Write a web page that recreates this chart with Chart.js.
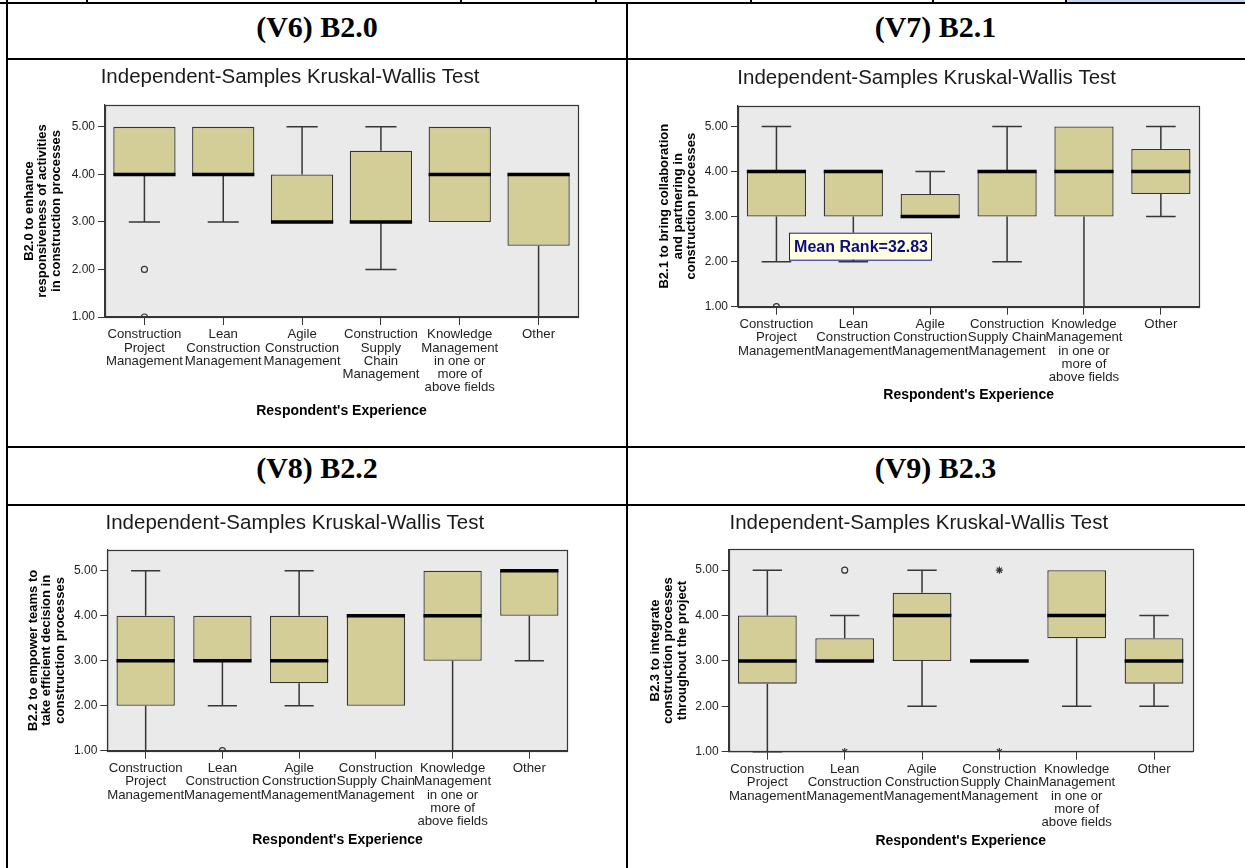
<!DOCTYPE html>
<html>
<head>
<meta charset="utf-8">
<title>Kruskal-Wallis box plots B2.0 – B2.3</title>
<script src="https://cdn.jsdelivr.net/npm/chart.js@4.4.1/dist/chart.umd.min.js"></script>
<style>
  html, body { margin: 0; padding: 0; background: #fff; }
  #page { position: relative; width: 1245px; height: 868px; overflow: hidden; background: #fff; }
  .rule { position: absolute; background: #000; z-index: 2; }
  .head {
    position: absolute; height: 30px; line-height: 30px; text-align: center; white-space: nowrap;
    font: bold 30px "Liberation Serif", "Times New Roman", serif; color: #000;
  }
  canvas { position: absolute; }
</style>
</head>
<body>
<div id="page">
  <!-- table frame -->
  <div class="rule" style="left:1066px;top:0;width:179px;height:2px;background:#c6d9f1"></div>
  <div class="rule" style="left:0;top:2px;width:1245px;height:2px"></div>
  <div class="rule" style="left:86px;top:0;width:2px;height:3px"></div>
  <div class="rule" style="left:460px;top:0;width:2px;height:3px"></div>
  <div class="rule" style="left:595px;top:0;width:2px;height:3px"></div>
  <div class="rule" style="left:750px;top:0;width:2px;height:3px"></div>
  <div class="rule" style="left:932px;top:0;width:2px;height:3px"></div>
  <div class="rule" style="left:1065px;top:0;width:2px;height:3px"></div>
  <div class="rule" style="left:6px;top:0;width:2px;height:868px"></div>
  <div class="rule" style="left:626px;top:3px;width:2px;height:865px"></div>
  <div class="rule" style="left:6px;top:58px;width:1239px;height:2px"></div>
  <div class="rule" style="left:6px;top:446px;width:1239px;height:2px"></div>
  <div class="rule" style="left:6px;top:504px;width:1239px;height:2px"></div>

  <div class="head" style="left:7px;width:620px;top:10px">(V6) B2.0</div>
  <div class="head" style="left:627px;width:617px;top:10px">(V7) B2.1</div>
  <div class="head" style="left:7px;width:620px;top:451px">(V8) B2.2</div>
  <div class="head" style="left:627px;width:617px;top:451px">(V9) B2.3</div>

  <canvas id="b20" width="620" height="386" style="left:2px;top:61px"></canvas>
  <canvas id="b21" width="589" height="386" style="left:654px;top:61px"></canvas>
  <canvas id="b22" width="604" height="362" style="left:22px;top:506px"></canvas>
  <canvas id="b23" width="598" height="362" style="left:645px;top:506px"></canvas>
</div>

<script>
// ---- shared text ----
const CHART_TITLE = 'Independent-Samples Kruskal-Wallis Test';
const X_TITLE = "Respondent's Experience";
const yTickValues = [1, 2, 3, 4, 5];
const yAxisMin = 1;
const yAxisMax = 5.46;

// experience groups (first panel wraps the supply-chain label over four lines)
const groupsB20 = [
  ['Construction', 'Project', 'Management'],
  ['Lean', 'Construction', 'Management'],
  ['Agile', 'Construction', 'Management'],
  ['Construction', 'Supply', 'Chain', 'Management'],
  ['Knowledge', 'Management', 'in one or', 'more of', 'above fields'],
  ['Other']
];
const groupsB2x = [
  ['Construction', 'Project', 'Management'],
  ['Lean', 'Construction', 'Management'],
  ['Agile', 'Construction', 'Management'],
  ['Construction', 'Supply Chain', 'Management'],
  ['Knowledge', 'Management', 'in one or', 'more of', 'above fields'],
  ['Other']
];

// ---- B2.0 to enhance responsiveness of activities ----
const b20Q1 = [4, 4, 3, 3, 3, 2.5];
const b20Q3 = [5, 5, 4, 4.5, 5, 4];
const b20Median = [4, 4, 3, 3, 4, 4];
const b20Low = [3, 3, 3, 2, 3, 1];
const b20High = [5, 5, 5, 5, 5, 4];
const b20Outliers = [
  { group: 0, value: 2, kind: 'outlier' },
  { group: 0, value: 1, kind: 'outlier' }
];

// ---- B2.1 to bring collaboration and partnering ----
const b21Q1 = [3, 3, 3, 3, 3, 3.5];
const b21Q3 = [4, 4, 3.5, 4, 5, 4.5];
const b21Median = [4, 4, 3, 4, 4, 4];
const b21Low = [2, 2, 3, 2, 1, 3];
const b21High = [5, 4, 4, 5, 5, 5];
const b21Outliers = [
  { group: 0, value: 1, kind: 'outlier' }
];
const b21MeanRank = 'Mean Rank=32.83';

// ---- B2.2 to empower teams to take efficient decision ----
const b22Q1 = [2, 3, 2.5, 2, 3, 4];
const b22Q3 = [4, 4, 4, 4, 5, 5];
const b22Median = [3, 3, 3, 4, 4, 5];
const b22Low = [1, 2, 2, 2, 1, 3];
const b22High = [5, 4, 5, 4, 5, 5];
const b22Outliers = [
  { group: 1, value: 1, kind: 'outlier' }
];

// ---- B2.3 to integrate construction processes ----
const b23Q1 = [2.5, 3, 3, 3, 3.5, 2.5];
const b23Q3 = [4, 3.5, 4.5, 3, 5, 3.5];
const b23Median = [3, 3, 4, 3, 4, 3];
const b23Low = [1, 3, 2, 3, 2, 2];
const b23High = [5, 4, 5, 3, 5, 4];
const b23Outliers = [
  { group: 1, value: 5, kind: 'outlier' },
  { group: 1, value: 1, kind: 'extreme' },
  { group: 3, value: 5, kind: 'extreme' },
  { group: 3, value: 1, kind: 'extreme' }
];

// ---- styling ----
const SANS = "'Liberation Sans', Arial, Helvetica, sans-serif";
const PLOT_BG = '#eaeaea';
const BOX_FILL = '#d3ce97';
const EDGE = '#363636';
const WHISKER = '#363636';

// draws plot background, whiskers, medians, the frame and an optional note box
function boxParts(spec) {
  return {
    id: 'boxParts',
    beforeDraw(chart) {
      const { ctx, chartArea: a } = chart;
      ctx.save();
      ctx.fillStyle = PLOT_BG;
      ctx.fillRect(a.left, a.top, a.right - a.left, a.bottom - a.top);
      ctx.restore();
    },
    afterDatasetsDraw(chart) {
      const { ctx } = chart;
      const ys = chart.scales.y;
      const bars = chart.getDatasetMeta(0).data;
      ctx.save();
      ctx.lineCap = 'butt';
      spec.q1.forEach((q1, i) => {
        const q3 = spec.q3[i];
        const bar = bars[i];
        const cx = bar.x;
        const half = bar.width / 2;
        const cap = half / 2;
        ctx.strokeStyle = WHISKER;
        ctx.lineWidth = 1.5;
        if (spec.high[i] > q3) {
          const yTop = ys.getPixelForValue(spec.high[i]);
          ctx.beginPath();
          ctx.moveTo(cx, ys.getPixelForValue(q3));
          ctx.lineTo(cx, yTop);
          ctx.moveTo(cx - cap, yTop);
          ctx.lineTo(cx + cap, yTop);
          ctx.stroke();
        }
        if (spec.low[i] < q1) {
          const yBot = ys.getPixelForValue(spec.low[i]);
          ctx.beginPath();
          ctx.moveTo(cx, ys.getPixelForValue(q1));
          ctx.lineTo(cx, yBot);
          ctx.moveTo(cx - cap, yBot);
          ctx.lineTo(cx + cap, yBot);
          ctx.stroke();
        }
        const ym = ys.getPixelForValue(spec.median[i]);
        ctx.strokeStyle = '#000';
        ctx.lineWidth = 3.5;
        ctx.beginPath();
        ctx.moveTo(cx - half, ym);
        ctx.lineTo(cx + half, ym);
        ctx.stroke();
      });
      ctx.restore();
    },
    afterDraw(chart) {
      const { ctx, chartArea: a } = chart;
      ctx.save();
      ctx.strokeStyle = EDGE;
      ctx.lineWidth = 1.2;
      ctx.strokeRect(Math.round(a.left) + 0.5, Math.round(a.top) + 0.5,
        Math.round(a.right - a.left), Math.round(a.bottom - a.top));
      if (spec.note) {
        const w = 142, h = 27;
        const x0 = a.left + 51, y0 = a.top + 127;
        ctx.fillStyle = '#ffffe1';
        ctx.fillRect(x0, y0, w, h);
        ctx.strokeStyle = '#1a1a8a';
        ctx.lineWidth = 1;
        ctx.strokeRect(x0 + 0.5, y0 + 0.5, w, h);
        ctx.fillStyle = '#0c0c82';
        ctx.font = 'bold 16px ' + SANS;
        ctx.textAlign = 'center';
        ctx.textBaseline = 'middle';
        ctx.fillText(spec.note, x0 + w / 2 + 1, y0 + h / 2 + 1);
      }
      ctx.restore();
    }
  };
}

function boxChart(canvasId, spec, frame) {
  const datasets = [{
    type: 'bar',
    data: spec.q1.map((v, i) => [v, spec.q3[i]]),
    backgroundColor: BOX_FILL,
    borderColor: EDGE,
    borderWidth: 1.3,
    borderSkipped: false,
    barPercentage: frame.boxShare,
    categoryPercentage: 1,
    order: 2
  }];
  spec.outliers.forEach(o => {
    const extreme = o.kind === 'extreme';
    datasets.push({
      type: 'line',
      showLine: false,
      data: spec.labels.map((_, i) => (i === o.group ? o.value : null)),
      pointStyle: extreme ? 'star' : 'circle',
      pointRadius: extreme ? 3.6 : 3,
      pointBorderColor: '#333',
      pointBackgroundColor: 'rgba(0,0,0,0)',
      pointBorderWidth: 1.2,
      order: 1
    });
  });

  return new Chart(document.getElementById(canvasId), {
    type: 'bar',
    data: { labels: spec.labels, datasets },
    options: {
      responsive: false,
      animation: false,
      events: [],
      layout: { padding: { left: 0, right: frame.padRight, top: 0, bottom: 0 } },
      plugins: {
        legend: { display: false },
        tooltip: { enabled: false },
        title: {
          display: true,
          text: CHART_TITLE,
          color: '#1a1a1a',
          font: { family: SANS, size: 20.5, weight: 'normal', lineHeight: '24px' },
          padding: { top: frame.titleTop, bottom: frame.titleBottom }
        }
      },
      scales: {
        x: {
          type: 'category',
          offset: true,
          grid: { display: true, drawOnChartArea: false, drawTicks: true, tickLength: 8, color: EDGE, offset: false },
          border: { display: true, color: EDGE, width: 1.2 },
          ticks: {
            color: '#1e1e1e', autoSkip: false, maxRotation: 0, minRotation: 0, padding: 3,
            font: { family: SANS, size: 13.2, lineHeight: '13.3px' }
          },
          title: {
            display: true, text: X_TITLE, color: '#000',
            font: { family: SANS, size: 14, weight: 'bold', lineHeight: '16.8px' },
            padding: { top: 0, bottom: frame.xTitleBottom }
          },
          afterFit: s => { s.height = frame.xAxisHeight; }
        },
        y: {
          min: yAxisMin,
          max: yAxisMax,
          afterBuildTicks: s => { s.ticks = yTickValues.map(v => ({ value: v })); },
          grid: { display: true, drawOnChartArea: false, drawTicks: true, tickLength: 7, color: EDGE },
          border: { display: true, color: EDGE, width: 1.2 },
          ticks: {
            color: '#1e1e1e', padding: 3,
            font: { family: SANS, size: 12 },
            callback: v => Number(v).toFixed(2)
          },
          title: {
            display: true, text: spec.yTitle, color: '#000',
            font: { family: SANS, size: 13, weight: 'bold', lineHeight: '13.5px' },
            padding: { top: frame.yTitleLeft, bottom: 0 }
          },
          afterFit: s => { s.width = frame.yAxisWidth; }
        }
      }
    },
    plugins: [boxParts(spec)]
  });
}

boxChart('b20', {
  labels: groupsB20, q1: b20Q1, q3: b20Q3, median: b20Median, low: b20Low, high: b20High,
  outliers: b20Outliers,
  yTitle: ['B2.0 to enhance', 'responsiveness of activities', 'in construction processes']
}, { boxShare: 0.79, padRight: 44, titleTop: 4.5, titleBottom: 15.5, yAxisWidth: 103, xAxisHeight: 130, xTitleBottom: 27.9, yTitleLeft: 20.5 });

boxChart('b21', {
  labels: groupsB2x, q1: b21Q1, q3: b21Q3, median: b21Median, low: b21Low, high: b21High,
  outliers: b21Outliers, note: b21MeanRank,
  yTitle: ['B2.1 to bring collaboration', 'and partnering in', 'construction processes']
}, { boxShare: 0.77, padRight: 43.7, titleTop: 5, titleBottom: 15.7, yAxisWidth: 84, xAxisHeight: 140.3, xTitleBottom: 43.6, yTitleLeft: 4 });

boxChart('b22', {
  labels: groupsB2x, q1: b22Q1, q3: b22Q3, median: b22Median, low: b22Low, high: b22High,
  outliers: b22Outliers,
  yTitle: ['B2.2 to empower teams to', 'take efficient decision in', 'construction processes']
}, { boxShare: 0.76, padRight: 58.3, titleTop: 5.3, titleBottom: 14.7, yAxisWidth: 85.3, xAxisHeight: 117.3, xTitleBottom: 19.6, yTitleLeft: 4.5 });

boxChart('b23', {
  labels: groupsB2x, q1: b23Q1, q3: b23Q3, median: b23Median, low: b23Low, high: b23High,
  outliers: b23Outliers,
  yTitle: ['B2.3 to integrate', 'construction processes', 'throughout the project']
}, { boxShare: 0.76, padRight: 50.3, titleTop: 5.3, titleBottom: 14, yAxisWidth: 83.7, xAxisHeight: 116.3, xTitleBottom: 18.6, yTitleLeft: 3.5 });
</script>
</body>
</html>
